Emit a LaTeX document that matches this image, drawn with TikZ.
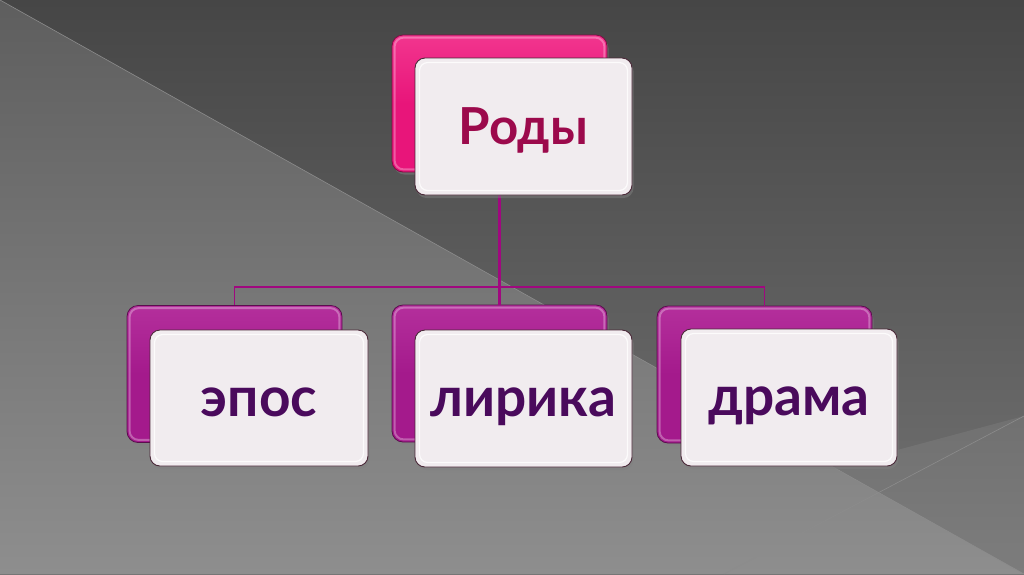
\documentclass[tikz,border=0pt]{standalone}
\usepackage{fontspec}
\newfontfamily\lato{Lato}
\usetikzlibrary{shadows}
\definecolor{bgtop}{HTML}{464646}
\definecolor{bgbot}{HTML}{737373}
\definecolor{lltop}{HTML}{5E5E5E}
\definecolor{llbot}{HTML}{8E8E8E}
\definecolor{pinkmain}{HTML}{E8157A}
\definecolor{pinklight}{HTML}{F2358E}
\definecolor{purpmain}{HTML}{A41A8C}
\definecolor{purplight}{HTML}{B42F9C}
\definecolor{frontfill}{HTML}{F1ECEF}
\definecolor{frontedge}{HTML}{4A2838}
\definecolor{rodytext}{HTML}{9C0A4C}
\definecolor{lowtext}{HTML}{4A0A5C}
\definecolor{linkcol}{HTML}{A0087F}
\definecolor{bgline}{HTML}{8C8C8C}
\begin{document}
\begin{tikzpicture}[x=1pt,y=-1pt,
  backbox/.style={rectangle, rounded corners=11pt, minimum width=215pt, minimum height=137pt,
    inner sep=0pt, draw=#1!55!black, line width=0.8pt,
    drop shadow={opacity=0.5, shadow xshift=1.5pt, shadow yshift=-2.5pt}},
  backpink/.style={backbox=pinkmain, top color=pinklight, bottom color=pinkmain, middle color=pinkmain},
  backpurp/.style={backbox=purpmain, top color=purplight, bottom color=purpmain, middle color=purpmain},
  frontbox/.style={rectangle, rounded corners=10pt, minimum width=217pt, minimum height=137pt,
    inner sep=0pt, fill=frontfill, draw=frontedge, line width=0.9pt,
    text depth=0pt,
    drop shadow={opacity=0.5, shadow xshift=1.5pt, shadow yshift=-3pt}},
  rimline/.style={draw=white, line width=1.2pt, opacity=0.8, rounded corners=8pt},
  edgehl/.style={draw=white, line width=2pt, opacity=0.3, rounded corners=9pt},
  link/.style={draw=linkcol, line width=2.4pt},
  toptext/.style={font=\lato\bfseries\fontsize{51}{60}\selectfont, text=rodytext, text height=36pt},
  lowtext/.style={font=\lato\bfseries\fontsize{55}{66}\selectfont, text=lowtext, text height=36pt},
]
\useasboundingbox (0,0) rectangle (1024,574);
% background
\shade[top color=bgtop, bottom color=bgbot] (0,0) rectangle (1024,574);
\shade[top color=lltop, bottom color=llbot] (0,0) -- (1024,574) -- (0,574) -- cycle;
\fill[white, opacity=0.07] (834,467) -- (1024,416) -- (1024,574) -- cycle;
\draw[bgline, line width=0.6pt] (0,0) -- (1024,574);
\draw[bgline, line width=0.6pt] (724,574) -- (1024,416);

% back boxes
\node[backpink] (topB) at (499.5,103.5) {};
\node[backpurp] (leftB) at (234.5,374) {};
\node[backpurp] (midB) at (499.5,373.5) {};
\node[backpurp] (rightB) at (764.5,374.5) {};
\foreach \b in {topB,leftB,midB,rightB}{
  \draw[edgehl] ([shift={(3,3)}]\b.north west) rectangle ([shift={(-3,-3)}]\b.south east);
}

% connectors
\coordinate (bus) at (499.5,287);
\draw[link] (topB.south) -- (midB.north);
\draw[link, line width=1.8pt] (leftB.north) |- (bus) -| (rightB.north);

% front boxes
\node[frontbox, toptext] (topF) at (523.5,126.5) {Роды};
\node[frontbox, lowtext, minimum width=218pt, minimum height=136pt] (leftF) at (259,398) {эпос};
\node[frontbox, lowtext] (midF) at (523.5,398.5) {лирика};
\node[frontbox, lowtext, minimum width=216pt] (rightF) at (789,397.5) {драма};
\foreach \f in {topF,leftF,midF,rightF}{
  \draw[rimline] ([shift={(5,5)}]\f.north west) rectangle ([shift={(-5,-5)}]\f.south east);
}
\end{tikzpicture}
\end{document}
